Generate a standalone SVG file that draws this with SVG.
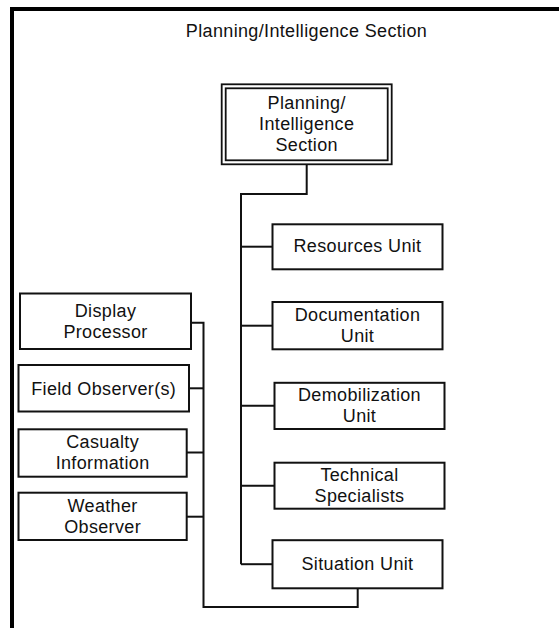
<svg xmlns="http://www.w3.org/2000/svg" width="559" height="628" viewBox="0 0 559 628">
  <style>
    .frame { stroke: #000; stroke-width: 4; fill: none; }
    .box { fill: #fff; stroke: #111; stroke-width: 2; }
    .link { fill: none; stroke: #111; stroke-width: 2; }
    text { font-family: "Liberation Sans", Arial, sans-serif; font-size: 18px; letter-spacing: 0.35px; fill: #111; text-anchor: middle; }
  </style>
  <rect width="559" height="628" fill="#fff"/>

  <!-- page frame: heavy top and left rules -->
  <g id="frame">
    <line class="frame" x1="10" y1="9" x2="559" y2="9"/>
    <line class="frame" x1="12" y1="7" x2="12" y2="628"/>
  </g>

  <text id="title" x="306.5" y="36.7">Planning/Intelligence Section</text>

  <!-- connectors -->
  <g id="connectors">
    <!-- section head down to the unit trunk -->
    <polyline class="link" points="306.7,164 306.7,194 241,194 241,564.2"/>
    <line class="link" x1="241" y1="246.7" x2="272.5" y2="246.7"/>
    <line class="link" x1="241" y1="325.7" x2="272.5" y2="325.7"/>
    <line class="link" x1="241" y1="405.8" x2="274.5" y2="405.8"/>
    <line class="link" x1="241" y1="485.7" x2="274.5" y2="485.7"/>
    <line class="link" x1="241" y1="564.2" x2="272.5" y2="564.2"/>
    <!-- situation unit feed to its support positions -->
    <polyline class="link" points="357.7,588.3 357.7,607 203.5,607 203.5,322.7 191,322.7"/>
    <line class="link" x1="203.5" y1="388.3" x2="189" y2="388.3"/>
    <line class="link" x1="203.5" y1="452.5" x2="186.7" y2="452.5"/>
    <line class="link" x1="203.5" y1="516.7" x2="186.7" y2="516.7"/>
  </g>

  <g id="planning-section">
    <rect x="221.7" y="84.3" width="170" height="80" fill="#fff" stroke="#111" stroke-width="1.8"/>
    <rect x="225.7" y="88.3" width="162" height="72" fill="none" stroke="#111" stroke-width="1.8"/>
    <text x="306.7" y="109.3">Planning/</text>
    <text x="306.7" y="130">Intelligence</text>
    <text x="306.7" y="150.7">Section</text>
  </g>

  <g id="resources-unit">
    <rect class="box" x="272.5" y="224.3" width="170" height="45"/>
    <text x="357.5" y="252.3">Resources Unit</text>
  </g>

  <g id="documentation-unit">
    <rect class="box" x="272.5" y="302" width="170" height="47.3"/>
    <text x="357.5" y="320.5">Documentation</text>
    <text x="357.5" y="341.7">Unit</text>
  </g>

  <g id="demobilization-unit">
    <rect class="box" x="274.5" y="382.8" width="170" height="46.2"/>
    <text x="359.5" y="400.7">Demobilization</text>
    <text x="359.5" y="421.7">Unit</text>
  </g>

  <g id="technical-specialists">
    <rect class="box" x="274.5" y="462.7" width="170" height="46"/>
    <text x="359.5" y="481">Technical</text>
    <text x="359.5" y="501.5">Specialists</text>
  </g>

  <g id="situation-unit">
    <rect class="box" x="272.5" y="540.2" width="170" height="48.1"/>
    <text x="357.5" y="570">Situation Unit</text>
  </g>

  <g id="display-processor">
    <rect class="box" x="20" y="293.5" width="171" height="55.5"/>
    <text x="105.5" y="316.7">Display</text>
    <text x="105.5" y="337.7">Processor</text>
  </g>

  <g id="field-observers">
    <rect class="box" x="18.5" y="365" width="170.5" height="46.5"/>
    <text x="103.7" y="395">Field Observer(s)</text>
  </g>

  <g id="casualty-information">
    <rect class="box" x="18.5" y="429.3" width="168.2" height="47.4"/>
    <text x="102.6" y="448.3">Casualty</text>
    <text x="102.6" y="469">Information</text>
  </g>

  <g id="weather-observer">
    <rect class="box" x="18.5" y="492.7" width="168.2" height="47.3"/>
    <text x="102.6" y="511.7">Weather</text>
    <text x="102.6" y="532.7">Observer</text>
  </g>
</svg>
